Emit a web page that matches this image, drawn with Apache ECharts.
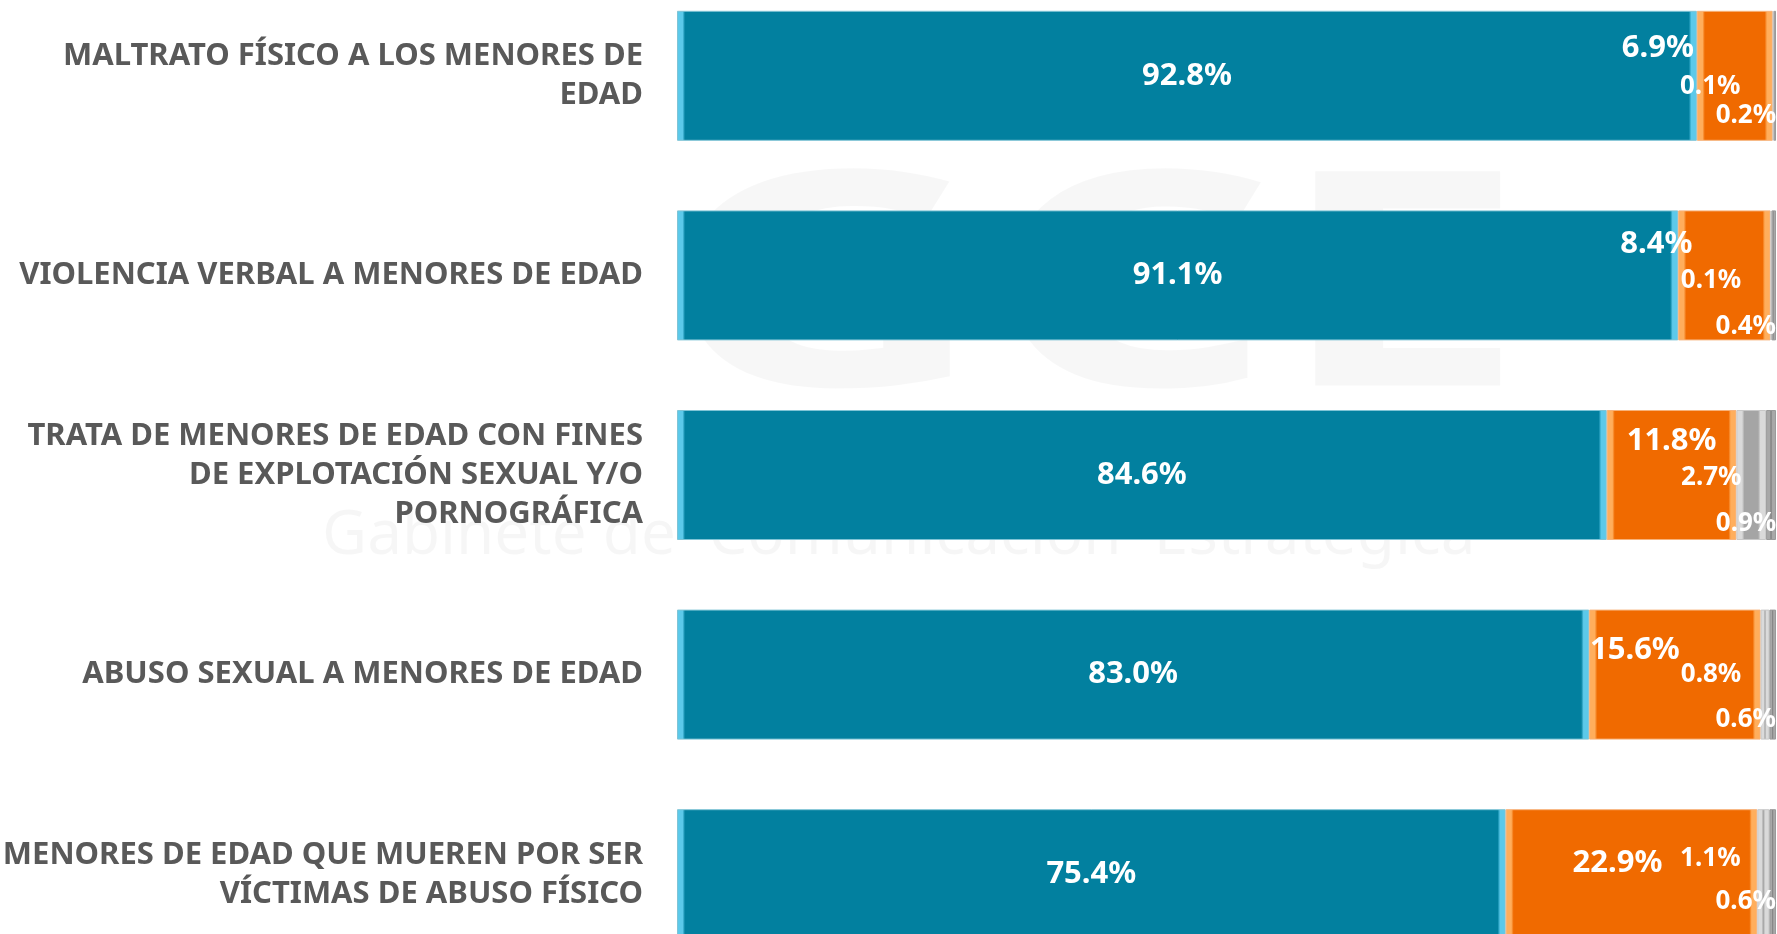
<!DOCTYPE html>
<html>
<head>
<meta charset="utf-8">
<script src="https://cdn.jsdelivr.net/npm/echarts@6/dist/echarts.min.js"></script>
<style>
  html, body { margin: 0; padding: 0; background: #fff; }
  #chart { width: 1777px; height: 934px; }
</style>
</head>
<body>
<div id="chart"></div>
<script>
/************** datos **************/
var categories = [
  'MALTRATO FÍSICO A LOS MENORES DE\nEDAD',
  'VIOLENCIA VERBAL A MENORES DE EDAD',
  'TRATA DE MENORES DE EDAD CON FINES\nDE EXPLOTACIÓN SEXUAL Y/O\nPORNOGRÁFICA',
  'ABUSO SEXUAL A MENORES DE EDAD',
  'MENORES DE EDAD QUE MUEREN POR SER\nVÍCTIMAS DE ABUSO FÍSICO'
];
var siValues = [92.8, 91.1, 84.6, 83.0, 75.4];
var noValues = [6.9, 8.4, 11.8, 15.6, 22.9];
var nsValues = [0.1, 0.1, 2.7, 0.8, 1.1];
var nrValues = [0.2, 0.4, 0.9, 0.6, 0.6];

// desplazamiento de etiquetas (px), como en el original
var noShift = [[-77, -28], [-68, -31], [0, -34], [-40, -24], [-14, -11]];
var nsShift = [[-63, 11], [-60, 5], [-40, 3], [-54, 0], [-53, -16]];
var nrShift = [[-29, 40], [-28, 51], [-25, 49], [-27, 45], [-27, 27]];

var FONT = '"Noto Sans", sans-serif';
var PX_PER_UNIT = 10.99;

// relleno con bisel a los lados
function bevel(main, light, value) {
  var w = value * PX_PER_UNIT;
  var f = Math.min(0.5, 8 / Math.max(w, 1));
  return {
    type: 'linear', x: 0, y: 0, x2: 1, y2: 0,
    colorStops: [
      { offset: 0, color: light },
      { offset: f * 0.7, color: light },
      { offset: f, color: main },
      { offset: 1 - f, color: main },
      { offset: 1 - f * 0.7, color: light },
      { offset: 1, color: light }
    ]
  };
}

function buildData(values, main, light, border, shifts) {
  return values.map(function (v, i) {
    var item = {
      value: v,
      itemStyle: { color: bevel(main, light, v), borderColor: border, borderWidth: 1 }
    };
    if (shifts) {
      item.label = { offset: shifts[i] };
    }
    return item;
  });
}

function seriesOf(name, values, main, light, border, shifts, fontSize) {
  return {
    name: name,
    type: 'bar',
    stack: 'total',
    barWidth: 130,
    data: buildData(values, main, light, border, shifts),
    label: {
      show: true,
      position: 'inside',
      color: '#fff',
      fontFamily: FONT,
      fontWeight: 'bold',
      fontSize: fontSize,
      formatter: function (p) { return p.value.toFixed(1) + '%'; }
    }
  };
}

var myChart = echarts.init(document.getElementById('chart'));

var option = {
  backgroundColor: '#fff',
  animation: false,
  graphic: [
    {
      type: 'text', left: 660, top: 150, z: -10, silent: true, scaleX: 1.5,
      style: { text: 'GCE', fontSize: 300, fontWeight: 'bold', fontFamily: FONT, fill: 'rgba(0,0,0,0.03)' }
    },
    {
      type: 'text', left: 322, top: 505, z: -10, silent: true,
      style: { text: 'Gabinete de  Comunicación  Estratégica', fontSize: 62, fontFamily: FONT, fill: 'rgba(0,0,0,0.035)' }
    }
  ],
  grid: {
    left: 677,
    right: 1,
    top: -24,
    bottom: -40,
    outerBoundsMode: 'none',
    containLabel: false
  },
  xAxis: {
    type: 'value',
    min: 0,
    max: 100,
    show: false
  },
  yAxis: {
    type: 'category',
    inverse: true,
    data: categories,
    axisLine: { show: false },
    axisTick: { show: false },
    axisLabel: {
      margin: 34,
      color: '#595959',
      fontFamily: FONT,
      fontWeight: 'bold',
      fontSize: 31,
      lineHeight: 39,
      align: 'right'
    }
  },
  series: [
    seriesOf('Sí', siValues, '#02809F', '#5CC9EA', '#7FC4D6', null, 31),
    seriesOf('No', noValues, '#F06A00', '#FFAE5C', '#F7B27A', noShift, 31),
    seriesOf('No sabe', nsValues, '#A5A5A5', '#DADADA', '#C8C8C8', nsShift, 26),
    seriesOf('No responde', nrValues, '#7F7F7F', '#A8A8A8', '#9A9A9A', nrShift, 26)
  ]
};

myChart.setOption(option);
</script>
</body>
</html>
